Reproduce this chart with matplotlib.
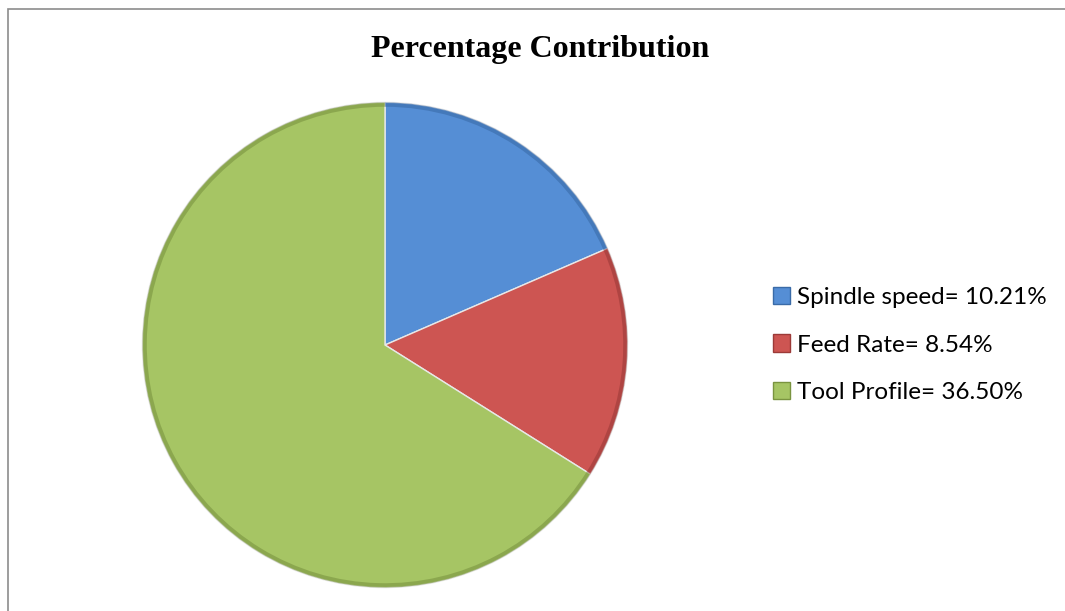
import matplotlib.pyplot as plt
import matplotlib.patches as mpatches

# data
labels = ["Spindle speed= 10.21%", "Feed Rate= 8.54%", "Tool Profile= 36.50%"]
values = [10.21, 8.54, 36.50]
colors = ["#558ED5", "#CD5552", "#A6C564"]
edge_colors = ["#3A6BA8", "#9C3A38", "#7A9440"]

W, H = 1065, 611
fig = plt.figure(figsize=(W / 100, H / 100), dpi=100)

# chart border (cut off at right and bottom like the source)
fig.add_artist(mpatches.Rectangle((8 / W, -0.05), 1.1, 1 - 9 / H + 0.05,
                                  transform=fig.transFigure, fill=False,
                                  edgecolor="#8c8c8c", linewidth=1.2))

fig.text(540 / W, 1 - 50 / H, "Percentage Contribution", ha="center", va="center",
         fontsize=23, fontweight="bold", family="Liberation Serif")

cx, cy, r = 385, 345, 245
ax = fig.add_axes([(cx - r) / W, (H - cy - r) / H, 2 * r / W, 2 * r / H])
wedges, _ = ax.pie(values, colors=colors, startangle=90, counterclock=False,
                   radius=1, wedgeprops=dict(linewidth=1.0, edgecolor="#e8e8e8"))
# darker rim to suggest the bevel
for w, ec in zip(wedges, edge_colors):
    rim = mpatches.Wedge(w.center, w.r, w.theta1, w.theta2, width=0.018,
                         facecolor=ec, edgecolor="none", alpha=0.6)
    ax.add_patch(rim)
ax.set_xlim(-1.01, 1.01)
ax.set_ylim(-1.01, 1.01)
ax.axis("off")

handles = [mpatches.Patch(facecolor=c, edgecolor=e) for c, e in zip(colors, edge_colors)]
fig.legend(handles, labels, loc="center left", bbox_to_anchor=(773 / W, 1 - 345 / H),
           frameon=False, prop={"family": "Lato", "size": 17.5},
           handlelength=0.7, handleheight=0.7, handletextpad=0.3, labelspacing=1.1,
           borderpad=0, borderaxespad=0)

fig.savefig("out.png", dpi=100)
